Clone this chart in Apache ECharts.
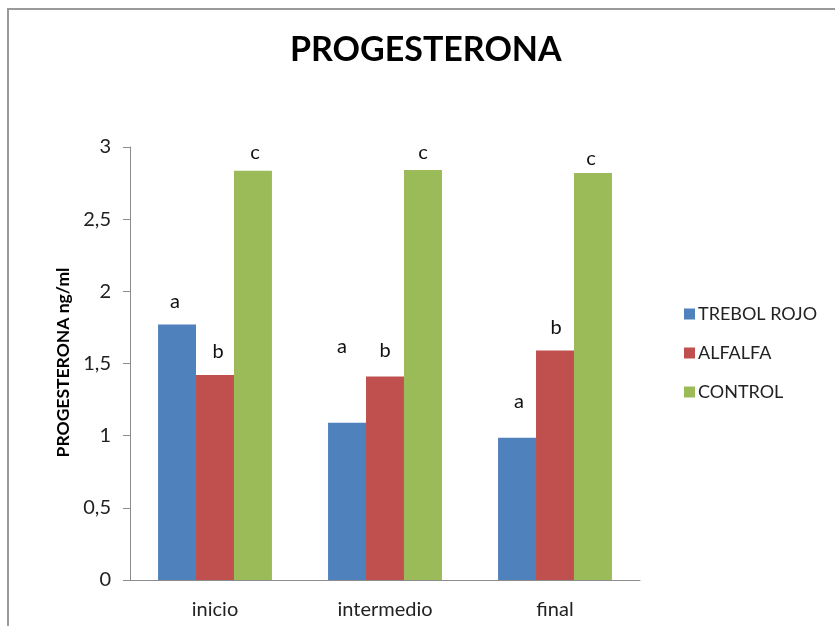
<!DOCTYPE html>
<html>
<head>
<meta charset="utf-8">
<script src="https://cdn.jsdelivr.net/npm/echarts@6/dist/echarts.min.js"></script>
<style>
  html, body { margin: 0; padding: 0; background: #fff; }
  #chart { width: 835px; height: 626px; }
</style>
</head>
<body>
<div id="chart"></div>
<script>
// Sampling moments
const categories = ['inicio', 'intermedio', 'final'];

// Mean progesterone (ng/ml) per treatment
const trebolRojo = [1.77, 1.09, 0.985];
const alfalfa    = [1.42, 1.41, 1.59];
const control    = [2.835, 2.84, 2.82];

// Significance letters per treatment
const letrasTrebol  = ['a', 'a', 'a'];
const letrasAlfalfa = ['b', 'b', 'b'];
const letrasControl = ['c', 'c', 'c'];

// Y axis ticks
const yTicks = [0, 0.5, 1, 1.5, 2, 2.5, 3];

const FONT = 'Lato, "Open Sans", sans-serif';

// Placement tweaks for the letters above the bars
const letterOffsets = {
  trebol:  [[-2, -15], [-5, -68], [2, -28]],
  alfalfa: [[3, -15], [0, -18], [1, -15]],
  control: [[2, -10], [0, -10], [-2, -6]]
};

function withLetters(values, letters, offsets) {
  return values.map((v, i) => ({
    value: v,
    label: { formatter: letters[i], offset: offsets[i] }
  }));
}

const letterLabel = {
  show: true,
  position: 'top',
  distance: 0,
  fontFamily: FONT,
  fontSize: 20,
  lineHeight: 16,
  color: '#111'
};

const chart = echarts.init(document.getElementById('chart'), null, { renderer: 'canvas' });

chart.setOption({
  backgroundColor: '#ffffff',
  animation: false,
  title: {
    text: 'PROGESTERONA',
    left: 285,
    top: 28,
    padding: 5,
    textStyle: { fontFamily: FONT, fontWeight: 'bold', fontSize: 34, color: '#000' }
  },
  graphic: [{
    type: 'rect',
    shape: { x: 8, y: 9, width: 900, height: 700 },
    style: { fill: 'none', stroke: '#9a9a9a', lineWidth: 2 },
    silent: true
  }],
  legend: {
    orient: 'vertical',
    left: 679,
    top: 299,
    itemWidth: 11,
    itemHeight: 11,
    itemGap: 19,
    icon: 'rect',
    textStyle: { fontFamily: FONT, fontSize: 18, color: '#222', lineHeight: 20, padding: [0, 0, 0, -2] },
    data: ['TREBOL ROJO', 'ALFALFA', 'CONTROL']
  },
  grid: { left: 130, right: 195, top: 147, bottom: 46, containLabel: false },
  xAxis: {
    type: 'category',
    data: categories,
    axisLine: { lineStyle: { color: '#8c8c8c', width: 1 } },
    axisTick: { show: false },
    axisLabel: { fontFamily: FONT, fontSize: 20, color: '#222', margin: 20 }
  },
  yAxis: {
    type: 'value',
    min: yTicks[0],
    max: yTicks[yTicks.length - 1],
    interval: yTicks[1] - yTicks[0],
    name: 'PROGESTERONA ng/ml',
    nameLocation: 'middle',
    nameGap: 58,
    nameRotate: 90,
    nameTextStyle: { fontFamily: FONT, fontWeight: 'bold', fontSize: 17.5, color: '#000', padding: [0, 0, 0, 2] },
    axisLine: { show: true, lineStyle: { color: '#8c8c8c', width: 1 } },
    axisTick: { show: true, inside: false, length: 7, lineStyle: { color: '#8c8c8c' } },
    splitLine: { show: false },
    axisLabel: {
      fontFamily: FONT, fontSize: 20, color: '#222', margin: 19,
      formatter: v => String(v).replace('.', ',')
    }
  },
  series: [
    {
      name: 'TREBOL ROJO', type: 'bar', barGap: '0%', barCategoryGap: '33%',
      itemStyle: { color: '#4F81BD' },
      label: letterLabel,
      data: withLetters(trebolRojo, letrasTrebol, letterOffsets.trebol)
    },
    {
      name: 'ALFALFA', type: 'bar', barGap: '0%', barCategoryGap: '33%',
      itemStyle: { color: '#C0504D' },
      label: letterLabel,
      data: withLetters(alfalfa, letrasAlfalfa, letterOffsets.alfalfa)
    },
    {
      name: 'CONTROL', type: 'bar', barGap: '0%', barCategoryGap: '33%',
      itemStyle: { color: '#9BBB59' },
      label: letterLabel,
      data: withLetters(control, letrasControl, letterOffsets.control)
    }
  ]
});
</script>
</body>
</html>
